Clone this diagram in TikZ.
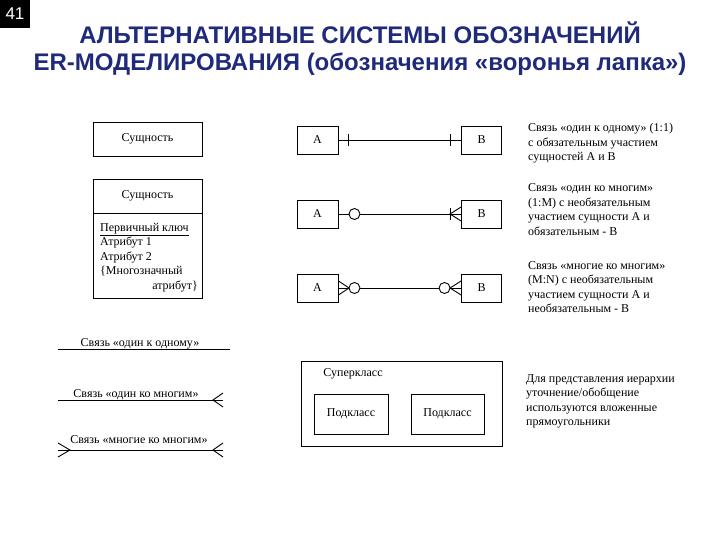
\documentclass[tikz,border=0pt]{standalone}
\usepackage{fontspec}
\setmainfont{Liberation Serif}
\newfontfamily\titlefont{Liberation Sans}
\usetikzlibrary{calc}
\definecolor{titleblue}{RGB}{32,42,122}
\begin{document}
\begin{tikzpicture}[x=1pt,y=-1pt,
  ent/.style={draw, line width=0.9pt, inner sep=0pt, font=\fontsize{12}{14}\selectfont},
  lbl/.style={inner sep=0pt, anchor=base west, font=\fontsize{12}{14}\selectfont},
  ln/.style={line width=0.9pt},
  ttl/.style={inner sep=0pt, anchor=base, text=titleblue, font=\titlefont\bfseries\fontsize{24}{24}\selectfont},
  opt/.style={circle, draw, line width=0.9pt, fill=white, minimum size=11pt, inner sep=0pt}
]
\useasboundingbox (0,0) rectangle (720,540);
\fill[white] (0,0) rectangle (720,540);

% slide number and title
\node[fill=black, text=white, minimum width=30pt, minimum height=28pt, inner sep=0pt,
  font=\titlefont\fontsize{17}{17}\selectfont] (num) at (15,14) {41};
\node[ttl] (t1) at (360,44) {АЛЬТЕРНАТИВНЫЕ СИСТЕМЫ ОБОЗНАЧЕНИЙ};
\node[ttl] (t2) at (360,71) {ER-МОДЕЛИРОВАНИЯ (обозначения «воронья лапка»)};

% entity boxes
\node[ent, minimum width=109pt, minimum height=34pt] (e1) at (147.5,139) {Сущность};
\node[ent, minimum width=109pt, minimum height=34pt] (e2h) at (147.5,196) {Сущность};
\node[ent, minimum width=109pt, minimum height=85pt, anchor=north] (e2b) at (e2h.south) {};
\node[lbl] (at1) at (100,231) {\underline{Первичный ключ}};
\node[lbl] (at2) at (100,245.5) {Атрибут 1};
\node[lbl] (at3) at (100,260) {Атрибут 2};
\node[lbl] (at4) at (100,274.5) {\{Многозначный};
\node[lbl, anchor=base east] (at5) at (198,289) {атрибут\}};

% relationship examples
\node[ent, minimum width=41pt, minimum height=28pt] (a1) at (317.5,140) {А};
\node[ent, minimum width=40pt, minimum height=28pt] (b1) at (481.5,140) {В};
\draw[ln] (a1) -- (b1);
\draw[ln] ($(a1.east)+(10,-6)$) -- ($(a1.east)+(10,6)$);
\draw[ln] ($(b1.west)+(-11,-6)$) -- ($(b1.west)+(-11,6)$);

\node[ent, minimum width=41pt, minimum height=28pt] (a2) at (317.5,214) {А};
\node[ent, minimum width=40pt, minimum height=28pt] (b2) at (481.5,214) {В};
\draw[ln] (a2) -- (b2);
\node[opt] (c2) at ($(a2.east)+(16,0)$) {};
\draw[ln] ($(b2.west)+(0,-7)$) -- ($(b2.west)+(-11,0)$) -- ($(b2.west)+(0,7)$);
\draw[ln] ($(b2.west)+(-11,-6)$) -- ($(b2.west)+(-11,6)$);

\node[ent, minimum width=41pt, minimum height=28pt] (a3) at (317.5,288) {А};
\node[ent, minimum width=40pt, minimum height=28pt] (b3) at (481.5,288) {В};
\draw[ln] (a3) -- (b3);
\draw[ln] ($(a3.east)+(0,-7)$) -- ($(a3.east)+(10.5,0)$) -- ($(a3.east)+(0,7)$);
\node[opt] (c3a) at ($(a3.east)+(16,0)$) {};
\draw[ln] ($(b3.west)+(0,-7)$) -- ($(b3.west)+(-11,0)$) -- ($(b3.west)+(0,7)$);
\node[opt] (c3b) at ($(b3.west)+(-16.5,0)$) {};

% right descriptions
\node[lbl] (d11) at (528,132) {Связь «один к одному» (1:1)};
\node[lbl] (d12) at (528,146.5) {с обязательным участием};
\node[lbl] (d13) at (528,161) {сущностей А и В};

\node[lbl] (d21) at (528,192) {Связь «один ко многим»};
\node[lbl] (d22) at (528,206.5) {(1:M) с необязательным};
\node[lbl] (d23) at (528,221) {участием сущности А и};
\node[lbl] (d24) at (528,235.5) {обязательным - В};

\node[lbl] (d31) at (528,269) {Связь «многие ко многим»};
\node[lbl] (d32) at (528,283.5) {(M:N) с необязательным};
\node[lbl] (d33) at (528,298) {участием сущности А и};
\node[lbl] (d34) at (528,312.5) {необязательным - В};

\node[lbl] (d41) at (526,382) {Для представления иерархии};
\node[lbl] (d42) at (526,396.5) {уточнение/обобщение};
\node[lbl] (d43) at (526,411) {используются вложенные};
\node[lbl] (d44) at (526,425.5) {прямоугольники};

% line notations
\coordinate (r1s) at (58,349);
\coordinate (r1e) at (230,349);
\draw[ln] (r1s) -- (r1e);
\node[lbl, anchor=base] (r1t) at (140,346) {Связь «один к одному»};

\coordinate (r2s) at (58,400);
\coordinate (r2e) at (223,400);
\draw[ln] (r2s) -- (r2e);
\draw[ln] ($(r2e)+(0,-7)$) -- ($(r2e)+(-10,0)$) -- ($(r2e)+(0,7)$);
\node[lbl, anchor=base] (r2t) at (136,397) {Связь «один ко многим»};

\coordinate (r3s) at (58,450);
\coordinate (r3e) at (223,450);
\draw[ln] (r3s) -- (r3e);
\draw[ln] ($(r3e)+(0,-7)$) -- ($(r3e)+(-10,0)$) -- ($(r3e)+(0,7)$);
\draw[ln] ($(r3s)+(0,-7)$) -- ($(r3s)+(12,0)$) -- ($(r3s)+(0,7)$);
\node[lbl, anchor=base] (r3t) at (139,443) {Связь «многие ко многим»};

% superclass / subclass
\node[ent, minimum width=201pt, minimum height=85pt] (sup) at (401.5,403.5) {};
\node[lbl, anchor=base] (supt) at (353,376) {Суперкласс};
\node[ent, minimum width=74pt, minimum height=40pt] (sub1) at (351,414) {Подкласс};
\node[ent, minimum width=73pt, minimum height=40pt] (sub2) at (447.5,414) {Подкласс};
\end{tikzpicture}
\end{document}
